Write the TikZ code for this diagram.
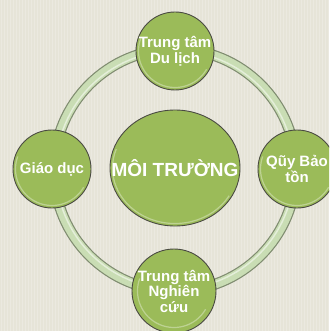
\documentclass[tikz,border=0pt]{standalone}
\usepackage{fontspec}
\setmainfont{Liberation Sans}
\usetikzlibrary{shapes.geometric}
\definecolor{bg}{HTML}{E6E4D8}
\definecolor{olivec}{HTML}{9BBB59}
\definecolor{ringc}{HTML}{C9DDB4}
\definecolor{ringedge}{HTML}{7F8C70}
\definecolor{edgec}{HTML}{4A4A42}
\tikzset{
  bub/.style={circle, fill=olivec, draw=edgec, line width=0.9pt, minimum size=78pt, inner sep=0pt,
    text=white, align=center, font=\bfseries\fontsize{15}{15.5}\selectfont},
  bigbub/.style={ellipse, fill=olivec, draw=edgec, line width=0.9pt, minimum width=130pt, minimum height=116pt,
    inner sep=0pt},
  bigtext/.style={text=white, inner sep=0pt, font=\bfseries\fontsize{19}{20}\selectfont},
  shine/.style={draw=white, opacity=0.35, line width=1.2pt}
}
\begin{document}
\begin{tikzpicture}[x=1pt,y=-1pt]
\useasboundingbox (0,0) rectangle (329,331);
\clip (0,0) rectangle (329,331);
\fill[bg] (0,0) rectangle (329,331);
\foreach \x in {1,4,...,329} \draw[white,opacity=0.22,line width=0.9pt] (\x,0) -- (\x,331);
% ring
\coordinate (rc) at (175,170);
\draw[ringedge, line width=11pt] (rc) circle[radius=121];
\draw[ringc, line width=8.6pt] (rc) circle[radius=121];
\draw[white, opacity=0.5, line width=1.5pt] (rc) circle[radius=119];
% nodes
\node[bigbub] (main) at (175,168) {};
\node[bigtext] (maintext) at (main.center) {MÔI TRƯỜNG};
\node[bub] (top) at (175,51) {Trung tâm\\Du lịch};
\node[bub] (left) at (52,169) {Giáo dục};
\node[bub] (right) at (297,169) {Qũy Bảo\\tồn};
\node[bub] (bottom) at (174,291) {Trung tâm\\Nghiên\\cứu};
\foreach \n in {top,left,right,bottom} \draw[shine] (\n.center) ++(30:36.5) arc[start angle=30, end angle=200, radius=36.5];
\draw[shine] (main.center) ++(30:62.5 and 55.5) arc[start angle=30, end angle=200, x radius=62.5, y radius=55.5];
\end{tikzpicture}
\end{document}
